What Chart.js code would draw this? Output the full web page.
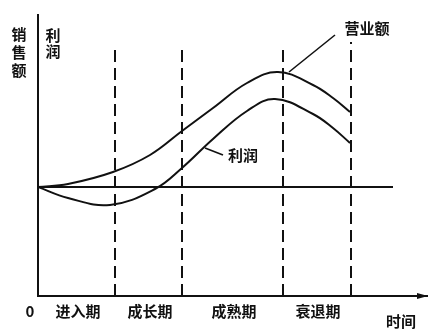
<!DOCTYPE html>
<html>
<head>
<meta charset="utf-8">
<script src="https://cdn.jsdelivr.net/npm/chart.js@4/dist/chart.umd.min.js"></script>
<style>
    html, body { margin: 0; padding: 0; background: #fff; }
</style>
</head>
<body>
<canvas id="plcChart" width="446" height="334"></canvas>
<script>
// positions along the time axis (0 = vertical axis), heights above the time axis
const salesX = [0, 30, 75, 112, 144, 175, 209, 240, 275, 295, 312];
const salesY = [109, 112, 124, 141, 165, 188, 213, 224, 211, 198, 184];
const profitX = [0, 30, 72, 117, 144, 175, 209, 237, 275, 295, 312];
const profitY = [109, 98, 91, 107, 128, 157, 185, 197, 182, 168, 153];

const stageBounds = [77, 144, 245, 313];
const stageTops = [246, 246, 249, 254];
const stageLabels = ['进入期', '成长期', '成熟期', '衰退期'];
const stageLabelX = [40, 112, 196, 280];

const baseLevel = 109;
const baseEnd = 355;
const xMax = 390;
const yMax = 282;

const toPoints = (xs, ys) => xs.map((x, i) => ({ x, y: ys[i] }));

const lineStyle = {
    borderColor: '#111',
    borderWidth: 2,
    pointRadius: 0,
    fill: false
};

const datasets = [
    { ...lineStyle, label: '营业额', data: toPoints(salesX, salesY), tension: 0.4 },
    { ...lineStyle, label: '利润', data: toPoints(profitX, profitY), tension: 0.4 },
    { ...lineStyle, label: 'base', data: [{ x: 0, y: baseLevel }, { x: baseEnd, y: baseLevel }] },
    // leader lines for the curve labels
    { ...lineStyle, borderWidth: 1.6, label: 'lead1', data: [{ x: 251, y: 224 }, { x: 297, y: 261 }] },
    { ...lineStyle, borderWidth: 1.6, label: 'lead2', data: [{ x: 167, y: 148 }, { x: 185, y: 141 }] }
];

stageBounds.forEach((b, i) => {
    datasets.push({
        ...lineStyle,
        label: 'stage' + i,
        borderDash: [12, 6],
        data: [{ x: b, y: 0 }, { x: b, y: stageTops[i] }]
    });
});

// axes + text labels
const labelPlugin = {
    id: 'plcLabels',
    afterDraw(chart) {
        const { ctx, scales: { x, y } } = chart;
        const px = v => x.getPixelForValue(v);
        const py = v => y.getPixelForValue(v);
        ctx.save();
        ctx.strokeStyle = '#111';
        ctx.fillStyle = '#111';
        ctx.lineWidth = 2;
        ctx.beginPath();
        ctx.moveTo(px(0), py(yMax));
        ctx.lineTo(px(0), py(0));
        ctx.lineTo(px(xMax), py(0));
        ctx.stroke();
        ctx.beginPath();
        ctx.moveTo(px(xMax), py(0));
        ctx.lineTo(px(xMax) - 11, py(0) - 3);
        ctx.lineTo(px(xMax) - 11, py(0) + 3);
        ctx.closePath();
        ctx.fill();

        ctx.font = 'bold 15px "Noto Sans CJK SC"';
        ctx.textAlign = 'center';
        ctx.textBaseline = 'middle';
        ctx.fillText('0', px(-8), py(-15));
        stageLabels.forEach((s, i) => ctx.fillText(s, px(stageLabelX[i]), py(-15)));
        ctx.fillText('时间', px(363), py(-25));
        ctx.fillText('营业额', px(329), py(268));
        ctx.textAlign = 'left';
        ctx.fillText('利润', px(190), py(141));

        ctx.textAlign = 'center';
        ['销', '售', '额'].forEach((c, i) => ctx.fillText(c, px(-19), py(262 - i * 18)));
        ['利', '润'].forEach((c, i) => ctx.fillText(c, px(15), py(261 - i * 16)));
        ctx.restore();
    }
};

new Chart(document.getElementById('plcChart'), {
    type: 'line',
    data: { datasets },
    options: {
        responsive: false,
        animation: false,
        devicePixelRatio: 1,
        layout: { padding: { left: 38, top: 14, right: 18, bottom: 38 } },
        plugins: { legend: { display: false }, tooltip: { enabled: false } },
        scales: {
            x: { type: 'linear', min: 0, max: xMax, display: false },
            y: { type: 'linear', min: 0, max: yMax, display: false }
        }
    },
    plugins: [labelPlugin]
});
</script>
</body>
</html>
